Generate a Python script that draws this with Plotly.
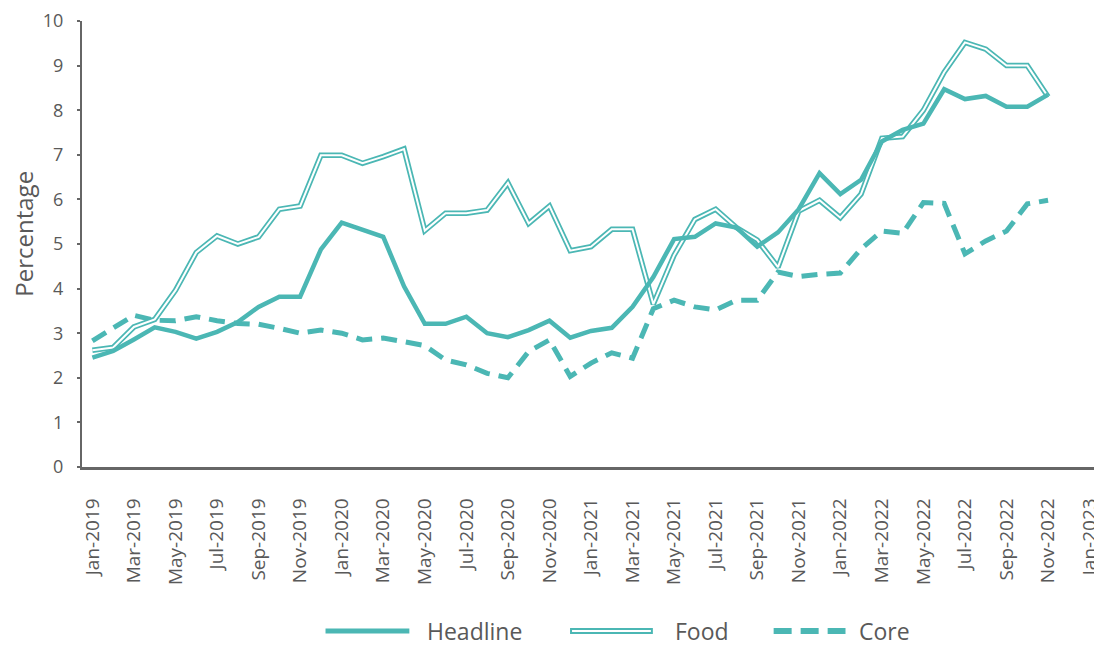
import plotly.graph_objects as go

months = ["Jan", "Feb", "Mar", "Apr", "May", "Jun", "Jul", "Aug", "Sep", "Oct", "Nov", "Dec"]
periods = [f"{m}-{y}" for y in range(2019, 2023) for m in months][:47]  # Jan-2019 .. Nov-2022
tick_labels = [f"{m}-{y}" for y in range(2019, 2024) for m in months][:49:2]  # every 2nd month to Jan-2023

headline = [2.45, 2.60, 2.86, 3.13, 3.03, 2.88, 3.03, 3.25, 3.59, 3.82, 3.82, 4.88,
            5.48, 5.31, 5.16, 4.05, 3.21, 3.21, 3.37, 3.00, 2.91, 3.07, 3.28, 2.90,
            3.05, 3.12, 3.59, 4.26, 5.11, 5.16, 5.46, 5.37, 4.94, 5.26, 5.78, 6.59,
            6.12, 6.44, 7.30, 7.56, 7.70, 8.47, 8.25, 8.32, 8.08, 8.08, 8.35]
food = [2.62, 2.68, 3.14, 3.31, 3.96, 4.81, 5.18, 5.00, 5.16, 5.78, 5.85, 6.99,
        6.99, 6.81, 6.96, 7.13, 5.30, 5.69, 5.69, 5.76, 6.37, 5.46, 5.85, 4.85,
        4.94, 5.33, 5.33, 3.65, 4.75, 5.55, 5.78, 5.37, 5.09, 4.48, 5.74, 5.98,
        5.59, 6.12, 7.37, 7.41, 8.00, 8.85, 9.52, 9.37, 9.00, 9.00, 8.30]
core = [2.83, 3.12, 3.40, 3.29, 3.28, 3.37, 3.28, 3.22, 3.20, 3.11, 3.00, 3.07,
        3.00, 2.85, 2.89, 2.81, 2.72, 2.40, 2.29, 2.10, 2.00, 2.59, 2.85, 2.03,
        2.33, 2.56, 2.44, 3.55, 3.74, 3.59, 3.52, 3.74, 3.74, 4.37, 4.27, 4.32,
        4.35, 4.89, 5.29, 5.24, 5.93, 5.91, 4.78, 5.07, 5.29, 5.90, 5.98]

TEAL = "#4BB7B4"
GREY = "#595959"
AXIS = "#666666"
FONT = "Open Sans"

x = list(range(len(periods)))

fig = go.Figure()
fig.add_trace(go.Scatter(x=x, y=core, mode="lines", name="Core", text=periods,
                         line=dict(color=TEAL, width=5, dash="16px,9px"), showlegend=False))
fig.add_trace(go.Scatter(x=x, y=food, mode="lines", name="Food", text=periods,
                         line=dict(color=TEAL, width=5.5), showlegend=False))
fig.add_trace(go.Scatter(x=x, y=food, mode="lines", name="Food", text=periods,
                         line=dict(color="white", width=2), showlegend=False, hoverinfo="skip"))
fig.add_trace(go.Scatter(x=x, y=headline, mode="lines", name="Headline", text=periods,
                         line=dict(color=TEAL, width=4.5), showlegend=False))

# The page places the figure 8px from the top-left corner (body margin).
OFF = 8
W, H = 1102 - OFF, 647 - OFF
# plot area in page pixels
L, R, T, B = 82, 1102, 18, 467


def px(xp):
    return (xp - L) / (R - L)


def py(yp):
    return (B - yp) / (B - T)


shapes = []
annotations = []
leg_y = 632
leg_font = dict(family=FONT, size=23, color=GREY)
# Headline sample
shapes.append(dict(type="line", xref="paper", yref="paper", x0=px(326), x1=px(410), y0=py(leg_y), y1=py(leg_y),
                   line=dict(color=TEAL, width=5)))
annotations.append(dict(text="Headline", xref="paper", yref="paper", x=px(426), y=py(leg_y), xanchor="left",
                        yanchor="middle", showarrow=False, font=leg_font))
# Food sample (double line)
shapes.append(dict(type="line", xref="paper", yref="paper", x0=px(571), x1=px(654), y0=py(leg_y), y1=py(leg_y),
                   line=dict(color=TEAL, width=6)))
shapes.append(dict(type="line", xref="paper", yref="paper", x0=px(573), x1=px(652), y0=py(leg_y), y1=py(leg_y),
                   line=dict(color="white", width=2)))
annotations.append(dict(text="Food", xref="paper", yref="paper", x=px(674), y=py(leg_y), xanchor="left",
                        yanchor="middle", showarrow=False, font=leg_font))
# Core sample (dashed)
shapes.append(dict(type="line", xref="paper", yref="paper", x0=px(775), x1=px(847), y0=py(leg_y), y1=py(leg_y),
                   line=dict(color=TEAL, width=6, dash="18px,9px")))
annotations.append(dict(text="Core", xref="paper", yref="paper", x=px(859), y=py(leg_y), xanchor="left",
                        yanchor="middle", showarrow=False, font=leg_font))
# Y axis title
annotations.append(dict(text="Percentage", xref="paper", yref="paper", x=px(23), y=py(232), xanchor="center",
                        yanchor="middle", textangle=-90, showarrow=False,
                        font=dict(family=FONT, size=24, color=GREY)))

fig.update_layout(
    width=W, height=H,
    margin=dict(l=L - OFF, r=(1102 - OFF) - (R - OFF), t=T - OFF, b=H - (B - OFF)),
    paper_bgcolor="white", plot_bgcolor="white",
    font=dict(family=FONT, color=GREY),
    showlegend=False,
    shapes=shapes,
    annotations=annotations,
    xaxis=dict(
        range=[-0.5, 48.5],
        tickmode="array",
        tickvals=list(range(0, 49, 2)),
        ticktext=tick_labels,
        tickangle=-90,
        tickfont=dict(family=FONT, size=19, color=GREY),
        showgrid=False, zeroline=False,
        showline=True, linecolor=AXIS, linewidth=2.5,
        ticks="", ticklabelstandoff=21, ticklabeloverflow="allow",
    ),
    yaxis=dict(
        range=[0, 10],
        tickmode="array",
        tickvals=list(range(0, 11)),
        tickfont=dict(family=FONT, size=18, color=GREY),
        showgrid=False, zeroline=False,
        showline=True, linecolor=AXIS, linewidth=2,
        ticks="outside", ticklen=3, tickwidth=2, tickcolor=AXIS, ticklabelstandoff=10,
        ticklabeloverflow="allow",
    ),
)

fig.write_html("out.html")
